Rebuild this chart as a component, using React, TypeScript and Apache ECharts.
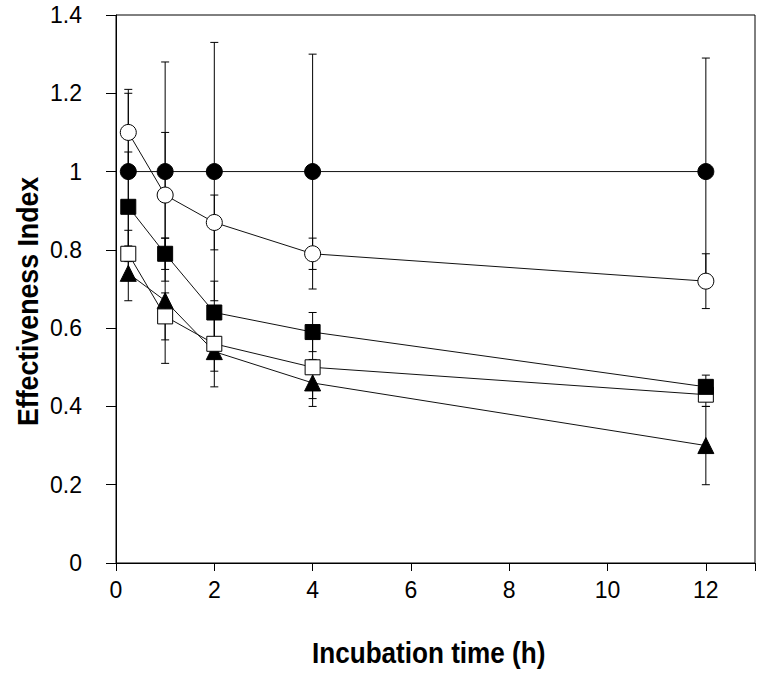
import React, { useEffect, useRef } from "react";
import * as echarts from "echarts";

const times = [0.25, 1, 2, 4, 12];

const filledCircle = [1.0, 1.0, 1.0, 1.0, 1.0];
const filledCircleErr = [0.21, 0.28, 0.33, 0.3, 0.29];

const openCircle = [1.1, 0.94, 0.87, 0.79, 0.72];
const openCircleErr = [0.1, 0.16, 0.07, 0.04, 0.07];

const filledSquare = [0.91, 0.79, 0.64, 0.59, 0.45];
const filledSquareErr = [0.14, 0.04, 0.08, 0.05, 0.03];

const openSquare = [0.79, 0.63, 0.56, 0.5, 0.43];
const openSquareErr = [0.06, 0.06, 0.07, 0.08, 0.03];

const filledTriangle = [0.74, 0.67, 0.54, 0.46, 0.3];
const filledTriangleErr = [0.07, 0.16, 0.09, 0.06, 0.1];

const xTicks = [0, 2, 4, 6, 8, 10, 12];
const yTicks = [0, 0.2, 0.4, 0.6, 0.8, 1, 1.2, 1.4];

const FONT = "'Liberation Sans', Arial, sans-serif";

type S = { name: string; vals: number[]; err: number[]; symbol: string; fill: string; size: number };

const seriesDefs: S[] = [
  { name: "triangle", vals: filledTriangle, err: filledTriangleErr, symbol: "triangle", fill: "#000", size: 16 },
  { name: "openSquare", vals: openSquare, err: openSquareErr, symbol: "rect", fill: "#fff", size: 15 },
  { name: "filledSquare", vals: filledSquare, err: filledSquareErr, symbol: "rect", fill: "#000", size: 15 },
  { name: "openCircle", vals: openCircle, err: openCircleErr, symbol: "circle", fill: "#fff", size: 16 },
  { name: "filledCircle", vals: filledCircle, err: filledCircleErr, symbol: "circle", fill: "#000", size: 16 },
];

export default function App() {
  const ref = useRef<HTMLDivElement>(null);
  useEffect(() => {
    document.body.style.margin = "0";
    const chart = echarts.init(ref.current!, null, { renderer: "svg" });

    const errSeries = seriesDefs.map((s) => ({
      type: "custom",
      name: s.name + "Err",
      z: 1,
      silent: true,
      data: times.map((t, i) => [t, s.vals[i], s.err[i]]),
      renderItem: (params: any, api: any) => {
        const x = api.value(0);
        const y = api.value(1);
        const e = api.value(2);
        const top = api.coord([x, y + e]);
        const bot = api.coord([x, y - e]);
        const hw = 4;
        const style = { stroke: "#000", lineWidth: 1 };
        return {
          type: "group",
          children: [
            { type: "line", shape: { x1: top[0], y1: top[1], x2: bot[0], y2: bot[1] }, style },
            { type: "line", shape: { x1: top[0] - hw, y1: top[1], x2: top[0] + hw, y2: top[1] }, style },
            { type: "line", shape: { x1: bot[0] - hw, y1: bot[1], x2: bot[0] + hw, y2: bot[1] }, style },
          ],
        };
      },
    }));

    const lineSeries = seriesDefs.map((s, k) => ({
      type: "line",
      name: s.name,
      z: 3 + k,
      data: times.map((t, i) => [t, s.vals[i]]),
      symbol: s.symbol,
      symbolSize: s.size,
      showAllSymbol: true,
      lineStyle: { color: "#111", width: 1 },
      itemStyle: { color: s.fill, borderColor: "#000", borderWidth: 1 },
    }));

    chart.setOption({
      animation: false,
      grid: {
        left: 116,
        right: 13,
        top: 15,
        bottom: 126,
        show: true,
        borderColor: "#000",
        borderWidth: 1,
        backgroundColor: "transparent",
      },
      xAxis: {
        type: "value",
        min: 0,
        max: 13,
        interval: 2,
        axisLine: { lineStyle: { color: "#000", width: 1 } },
        axisTick: { length: 8, lineStyle: { color: "#000" } },
        splitLine: { show: false },
        axisLabel: {
          color: "#000",
          fontSize: 23,
          fontFamily: FONT,
          margin: 15,
          customValues: xTicks,
          formatter: (v: number) => String(v),
        },
      },
      yAxis: {
        type: "value",
        min: 0,
        max: 1.4,
        interval: 0.2,
        axisLine: { show: true, lineStyle: { color: "#000", width: 1 } },
        axisTick: { show: true, length: 10, lineStyle: { color: "#000" } },
        splitLine: { show: false },
        axisLabel: {
          color: "#000",
          fontSize: 23,
          fontFamily: FONT,
          margin: 34,
          formatter: (v: number) => {
            const r = Math.round(v * 10) / 10;
            return yTicks.includes(r) ? String(r) : "";
          },
        },
      },
      graphic: [
        {
          type: "text",
          x: 312,
          y: 638,
          scaleX: 0.87,
          style: {
            text: "Incubation time (h)",
            font: `bold 30px ${FONT}`,
            fill: "#000",
            textVerticalAlign: "top",
          },
        },
        {
          type: "text",
          x: 12,
          y: 426,
          rotation: Math.PI / 2,
          scaleX: 0.89,
          style: {
            text: "Effectiveness Index",
            font: `bold 30px ${FONT}`,
            fill: "#000",
            textVerticalAlign: "top",
          },
        },
      ],
      series: [...errSeries, ...lineSeries],
    });
    return () => chart.dispose();
  }, []);
  return <div ref={ref} style={{ width: 768, height: 689 }} />;
}
